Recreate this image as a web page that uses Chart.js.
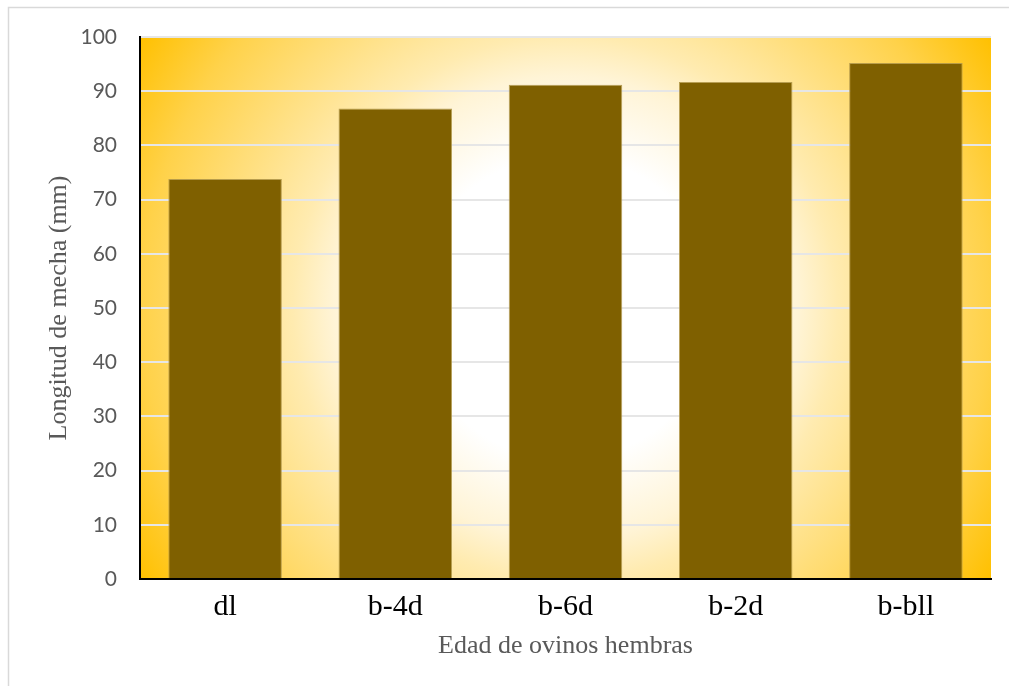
<!DOCTYPE html>
<html>
<head>
<meta charset="utf-8">
<script src="https://cdn.jsdelivr.net/npm/chart.js@4/dist/chart.umd.min.js"></script>
<style>
  html, body { margin: 0; padding: 0; background: #ffffff; }
  #wrap { position: relative; width: 1009px; height: 686px; }
  canvas { display: block; }
</style>
</head>
<body>
<div id="wrap"><canvas id="c" width="1009" height="686"></canvas></div>
<script>
// Longitud de mecha por edad de ovinos hembras
const categories = ['dl', 'b-4d', 'b-6d', 'b-2d', 'b-bll'];
const longitudMecha = [73.8, 86.8, 91.2, 91.7, 95.2];
const yTicks = [0, 10, 20, 30, 40, 50, 60, 70, 80, 90, 100];

const xTitle = 'Edad de ovinos hembras';
const yTitle = 'Longitud de mecha (mm)';

// Radial gold-to-white fill behind the plot area
const plotBackground = {
  id: 'plotBackground',
  beforeDraw(chart) {
    const { ctx, chartArea: a } = chart;
    const cx = (a.left + a.right) / 2;
    const cy = (a.top + a.bottom) / 2;
    const r = Math.hypot(a.right - cx, a.bottom - cy);
    const g = ctx.createRadialGradient(cx, cy, 0, cx, cy, r);
    g.addColorStop(0.00, '#FFFFFF');
    g.addColorStop(0.30, '#FFFFFF');
    g.addColorStop(0.46, '#FFF4D6');
    g.addColorStop(0.54, '#FFEBB0');
    g.addColorStop(0.84, '#FFD24A');
    g.addColorStop(1.00, '#FFC000');
    ctx.save();
    ctx.fillStyle = g;
    ctx.fillRect(a.left, a.top, a.right - a.left, a.bottom - a.top);
    ctx.restore();
  }
};

// Thin outer frame of the chart object
const outerFrame = {
  id: 'outerFrame',
  afterDraw(chart) {
    const { ctx, width, height } = chart;
    ctx.save();
    ctx.strokeStyle = '#D9D9D9';
    ctx.lineWidth = 1.5;
    ctx.beginPath();
    ctx.moveTo(8.5, height);
    ctx.lineTo(8.5, 7.5);
    ctx.lineTo(width, 7.5);
    ctx.stroke();
    ctx.restore();
  }
};

new Chart(document.getElementById('c'), {
  type: 'bar',
  data: {
    labels: categories,
    datasets: [{
      data: longitudMecha,
      backgroundColor: '#7F6000',
      borderColor: 'rgba(176,150,72,0.9)',
      borderWidth: 1,
      barPercentage: 1,
      categoryPercentage: 0.667
    }]
  },
  options: {
    responsive: false,
    devicePixelRatio: 1,
    animation: false,
    layout: { padding: { top: 37, right: 18, left: 0, bottom: 0 } },
    plugins: {
      legend: { display: false },
      tooltip: { enabled: false }
    },
    scales: {
      x: {
        offset: true,
        grid: { display: false, drawTicks: false },
        border: { display: true, color: '#000000', width: 2 },
        ticks: {
          color: '#000000',
          padding: 10,
          font: { family: '"Liberation Serif", "Times New Roman", serif', size: 30 }
        },
        title: {
          display: true,
          text: xTitle,
          color: '#595959',
          font: { family: '"Liberation Serif", "Times New Roman", serif', size: 26 },
          padding: { top: 0, bottom: 24 }
        },
        afterFit(scale) { scale.height = 107; }
      },
      y: {
        min: 0,
        max: 100,
        afterBuildTicks(scale) { scale.ticks = yTicks.map(v => ({ value: v })); },
        grid: { color: '#E6E6E6', lineWidth: 2, drawTicks: false },
        border: { display: true, color: '#000000', width: 2 },
        ticks: {
          color: '#595959',
          padding: 23,
          font: { family: 'Lato, "Open Sans", sans-serif', size: 21 }
        },
        title: {
          display: true,
          text: yTitle,
          color: '#595959',
          font: { family: '"Liberation Serif", "Times New Roman", serif', size: 26 },
          padding: { top: 44, bottom: 0 }
        },
        afterFit(scale) { scale.width = 140; }
      }
    }
  },
  plugins: [plotBackground, outerFrame]
});
</script>
</body>
</html>
